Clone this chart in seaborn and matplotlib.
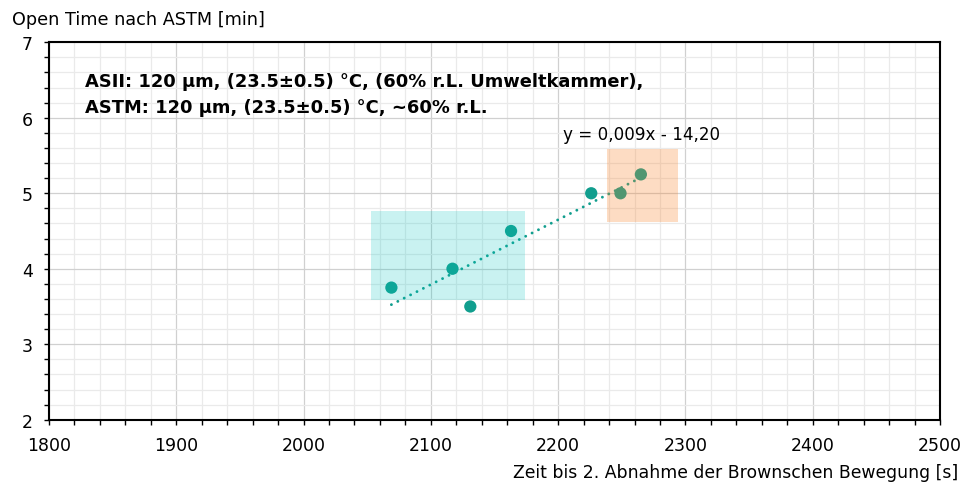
import numpy as np
import pandas as pd
import matplotlib
matplotlib.use("Agg")
import matplotlib.pyplot as plt
import seaborn as sns
from matplotlib.patches import Rectangle
from matplotlib.ticker import MultipleLocator, FixedLocator

# ---- data ----
zeit_s = [2069, 2117, 2131, 2163, 2226, 2249, 2265]
open_time_min = [3.75, 4.0, 3.5, 4.5, 5.0, 5.0, 5.25]
x_ticks = [1800, 1900, 2000, 2100, 2200, 2300, 2400, 2500]
y_ticks = [2, 3, 4, 5, 6, 7]
cyan_x = [2053, 2174]
cyan_y = [3.59, 4.77]
orange_x = [2238, 2294]
orange_y = [4.62, 5.58]
info_lines = ["ASII: 120 µm, (23.5±0.5) °C, (60% r.L. Umweltkammer),",
              "ASTM: 120 µm, (23.5±0.5) °C, ~60% r.L."]
equation = "y = 0,009x - 14,20"
x_label = "Zeit bis 2. Abnahme der Brownschen Bewegung [s]"
y_label = "Open Time nach ASTM [min]"

teal = "#119e8e"

sns.set_theme(style="white")
plt.rcParams["font.family"] = ["DejaVu Sans"]

W, H = 965, 485
fig = plt.figure(figsize=(W / 100, H / 100), dpi=100)
fig.patch.set_facecolor("white")
x0, x1, y0, y1 = 49, 940, 43.3, 420.7
ax = fig.add_axes([x0 / W, 1 - y1 / H, (x1 - x0) / W, (y1 - y0) / H])

df = pd.DataFrame({"zeit": zeit_s, "ot": open_time_min})

sns.regplot(data=df, x="zeit", y="ot", ax=ax, scatter=False, ci=None,
            color=teal, truncate=True,
            line_kws=dict(lw=2.1, linestyle=(0, (0.01, 2.45)),
                          dash_capstyle="round", zorder=3))
sns.scatterplot(data=df, x="zeit", y="ot", ax=ax, color=teal, s=78,
                edgecolor="none", linewidth=0, zorder=4)

ax.add_patch(Rectangle((cyan_x[0], cyan_y[0]), cyan_x[1] - cyan_x[0],
                       cyan_y[1] - cyan_y[0], facecolor=(0.0, 0.776, 0.757),
                       alpha=0.21, edgecolor="none", zorder=5))
ax.add_patch(Rectangle((orange_x[0], orange_y[0]), orange_x[1] - orange_x[0],
                       orange_y[1] - orange_y[0], facecolor=(0.98, 0.51, 0.157),
                       alpha=0.28, edgecolor="none", zorder=5))

ax.set_xlim(x_ticks[0], x_ticks[-1])
ax.set_ylim(y_ticks[0], y_ticks[-1])
ax.xaxis.set_major_locator(FixedLocator(x_ticks))
ax.yaxis.set_major_locator(FixedLocator(y_ticks))
ax.xaxis.set_minor_locator(MultipleLocator(20))
ax.yaxis.set_minor_locator(MultipleLocator(0.2))
ax.set_xticklabels([str(v) for v in x_ticks])
ax.set_yticklabels([str(v) for v in y_ticks])

ax.set_axisbelow(True)
ax.grid(which="major", color="#d0d0d0", lw=0.9)
ax.grid(which="minor", color="#eaeaea", lw=0.9)

for sp in ax.spines.values():
    sp.set_visible(True)
    sp.set_color("black")
    sp.set_linewidth(1.5)

ax.tick_params(which="both", direction="out", length=3.8, width=1,
               color="black", bottom=True, left=True, top=False, right=False)
ax.tick_params(which="major", labelsize=12.5, labelcolor="black", pad=8)

ax.set_xlabel("")
ax.set_ylabel("")

ax.text((85 - x0) / (x1 - x0), (y1 - 87) / (y1 - y0), info_lines[0],
        transform=ax.transAxes, fontsize=12.9, fontweight="bold",
        color="black", va="baseline", ha="left", zorder=6)
ax.text((85 - x0) / (x1 - x0), (y1 - 113) / (y1 - y0), info_lines[1],
        transform=ax.transAxes, fontsize=12.9, fontweight="bold",
        color="black", va="baseline", ha="left", zorder=6)
ax.text((563 - x0) / (x1 - x0), (y1 - 140) / (y1 - y0), equation,
        transform=ax.transAxes, fontsize=12.1, color="black",
        va="baseline", ha="left", zorder=6)

fig.text(12.5 / W, 1 - 25 / H, y_label, fontsize=12.7, color="black",
         va="baseline", ha="left")
fig.text(958 / W, 1 - 478 / H, x_label, fontsize=12.4, color="black",
         va="baseline", ha="right")

fig.savefig("out.png", dpi=100, facecolor="white")
